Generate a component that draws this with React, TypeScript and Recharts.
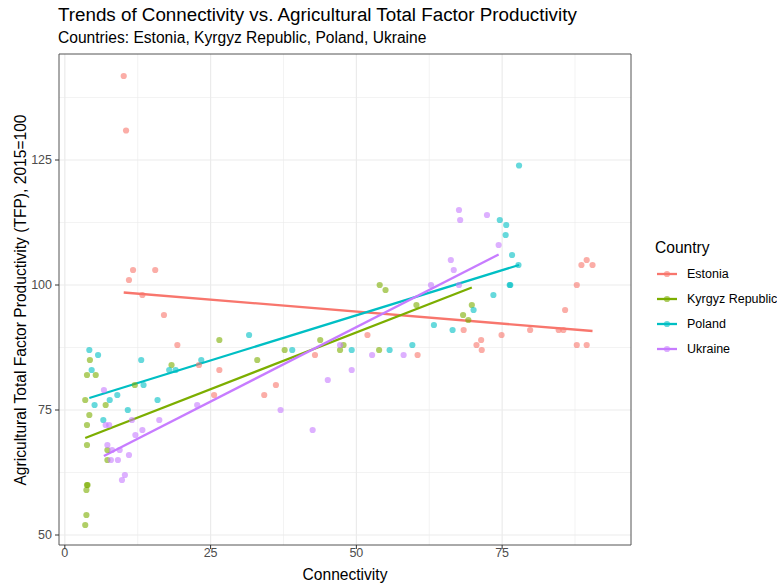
import React from 'react';
import { ComposedChart, Scatter, Line, XAxis, YAxis, CartesianGrid, ReferenceArea } from 'recharts';

const estonia = [
  { x: 10.1, y: 141.8 }, { x: 10.5, y: 130.9 }, { x: 11.7, y: 103 }, { x: 15.5, y: 103 },
  { x: 11, y: 101 }, { x: 13.3, y: 98 }, { x: 17, y: 94 }, { x: 19.3, y: 88 },
  { x: 23, y: 84 }, { x: 26.5, y: 83 }, { x: 25.6, y: 78 }, { x: 34.2, y: 78 },
  { x: 36.2, y: 80 }, { x: 42.9, y: 86 }, { x: 51.9, y: 90 }, { x: 60.5, y: 86 },
  { x: 68.4, y: 91 }, { x: 70.6, y: 88 }, { x: 71.4, y: 89 }, { x: 71.5, y: 87 },
  { x: 74.9, y: 90 }, { x: 79.8, y: 91 }, { x: 84.7, y: 91 }, { x: 85.5, y: 91 },
  { x: 85.8, y: 95 }, { x: 87.8, y: 100 }, { x: 88.6, y: 104 }, { x: 89.5, y: 105 },
  { x: 90.5, y: 104 }, { x: 87.8, y: 88 }, { x: 89.5, y: 88 },
];

const kyrgyz = [
  { x: 3.5, y: 52 }, { x: 3.7, y: 54 }, { x: 3.7, y: 59 }, { x: 3.8, y: 60 },
  { x: 3.9, y: 60 }, { x: 3.8, y: 68 }, { x: 3.8, y: 72 }, { x: 4.2, y: 74 },
  { x: 3.5, y: 77 }, { x: 7, y: 76 }, { x: 3.8, y: 82 }, { x: 5.3, y: 82 },
  { x: 4.3, y: 85 }, { x: 7.3, y: 67 }, { x: 7.3, y: 65 }, { x: 12, y: 80 },
  { x: 18.3, y: 84 }, { x: 26.5, y: 89 }, { x: 33, y: 85 }, { x: 37.7, y: 87 },
  { x: 43.8, y: 89 }, { x: 47.2, y: 87 }, { x: 47.8, y: 88 }, { x: 53.9, y: 87 },
  { x: 54, y: 100 }, { x: 55, y: 99 }, { x: 60.3, y: 96 }, { x: 69.8, y: 96 },
  { x: 68.3, y: 94 }, { x: 69.2, y: 93 },
];

const poland = [
  { x: 4.2, y: 87 }, { x: 5.7, y: 86 }, { x: 4.6, y: 83 }, { x: 13.1, y: 85 },
  { x: 31.6, y: 90 }, { x: 23.4, y: 85 }, { x: 17.9, y: 83 }, { x: 19, y: 83 },
  { x: 13.5, y: 80 }, { x: 9, y: 78 }, { x: 5.1, y: 76 }, { x: 15.9, y: 77 },
  { x: 10.8, y: 75 }, { x: 6.6, y: 73 }, { x: 7.7, y: 77 }, { x: 39, y: 87 },
  { x: 49.2, y: 87 }, { x: 55.7, y: 87 }, { x: 59.6, y: 88 }, { x: 63.3, y: 92 },
  { x: 66.5, y: 91 }, { x: 70.1, y: 95 }, { x: 73.5, y: 98 }, { x: 76.3, y: 100 },
  { x: 76.4, y: 100 }, { x: 77.8, y: 104 }, { x: 76.7, y: 106 }, { x: 75.6, y: 110 },
  { x: 75.7, y: 112 }, { x: 74.6, y: 113 }, { x: 77.9, y: 123.9 },
];

const ukraine = [
  { x: 6.7, y: 79 }, { x: 7, y: 72 }, { x: 7.6, y: 72 }, { x: 7.3, y: 68 },
  { x: 8.1, y: 67 }, { x: 9.4, y: 67 }, { x: 7.9, y: 65 }, { x: 9.1, y: 65 },
  { x: 11, y: 66 }, { x: 10.3, y: 62 }, { x: 9.8, y: 61 }, { x: 11.5, y: 73 },
  { x: 13.3, y: 71 }, { x: 12.1, y: 70 }, { x: 16.2, y: 73 }, { x: 22.7, y: 76 },
  { x: 37, y: 75 }, { x: 42.5, y: 71 }, { x: 45.1, y: 81 }, { x: 47.2, y: 88 },
  { x: 49.2, y: 83 }, { x: 52.7, y: 86 }, { x: 58.1, y: 86 }, { x: 62.8, y: 100 },
  { x: 66.2, y: 105 }, { x: 66.7, y: 103 }, { x: 67.6, y: 100 }, { x: 67.6, y: 115 },
  { x: 67.8, y: 113 }, { x: 72.4, y: 114 }, { x: 74.4, y: 108 },
];

// Fitted linear trend lines (end points)
const estoniaTrend = [{ x: 10.1, y: 98.5 }, { x: 90.5, y: 90.8 }];
const kyrgyzTrend = [{ x: 3.5, y: 69.4 }, { x: 69.8, y: 99.5 }];
const polandTrend = [{ x: 4.2, y: 77.4 }, { x: 77.9, y: 104 }];
const ukraineTrend = [{ x: 6.7, y: 65.8 }, { x: 74.4, y: 106.1 }];

const xTicks = [0, 25, 50, 75];
const yTicks = [50, 75, 100, 125];
const xMinor = [12.5, 37.5, 62.5, 87.5];
const yMinor = [62.5, 87.5, 112.5, 137.5];

const xDomain = [-1.0, 97.1];
const yDomain = [48, 146.2];

const countries = [
  { name: 'Estonia', color: '#F8766D', points: estonia, trend: estoniaTrend },
  { name: 'Kyrgyz Republic', color: '#7CAE00', points: kyrgyz, trend: kyrgyzTrend },
  { name: 'Poland', color: '#00BFC4', points: poland, trend: polandTrend },
  { name: 'Ukraine', color: '#C77CFF', points: ukraine, trend: ukraineTrend },
];

const font = '"Liberation Sans", Arial, Helvetica, sans-serif';

const dot = (color: string) => (props: any) => (
  <circle cx={props.cx} cy={props.cy} r={3.1} fill={color} fillOpacity={0.6} />
);

const App = () => {
  return (
    <div style={{ position: 'absolute', left: 0, top: 0, width: 777, height: 585, background: '#fff', fontFamily: font }}>
      <div style={{ position: 'absolute', left: 58, top: 4, fontSize: 18.8, lineHeight: '22px', color: '#000', whiteSpace: 'nowrap' }}>
        Trends of Connectivity vs. Agricultural Total Factor Productivity
      </div>
      <div style={{ position: 'absolute', left: 58, top: 29, fontSize: 15.6, lineHeight: '18px', color: '#000', whiteSpace: 'nowrap' }}>
        Countries: Estonia, Kyrgyz Republic, Poland, Ukraine
      </div>

      <ComposedChart width={777} height={585} margin={{ top: 54, right: 146, bottom: 0, left: 14 }}>
        <CartesianGrid verticalValues={xMinor} horizontalValues={yMinor} stroke="#EBEBEB" strokeWidth={0.6} />
        <CartesianGrid verticalValues={xTicks} horizontalValues={yTicks} stroke="#EBEBEB" strokeWidth={1.2} />
        <XAxis
          type="number"
          dataKey="x"
          domain={xDomain}
          ticks={xTicks}
          allowDataOverflow
          height={40}
          axisLine={false}
          tickSize={4}
          tickMargin={-1}
          tickLine={{ stroke: '#333333' }}
          tick={{ fill: '#4D4D4D', fontSize: 12.5, fontFamily: font }}
          label={{ value: 'Connectivity', position: 'insideBottom', offset: 5, fill: '#000', fontSize: 15.6, fontFamily: font }}
        />
        <YAxis
          type="number"
          dataKey="y"
          domain={yDomain}
          ticks={yTicks}
          allowDataOverflow
          width={45}
          axisLine={false}
          tickSize={4}
          tickMargin={3}
          tickLine={{ stroke: '#333333' }}
          tick={{ fill: '#4D4D4D', fontSize: 12.5, fontFamily: font }}
        />
        {countries.map(c => (
          <Scatter
            key={c.name}
            name={c.name}
            data={c.points}
            fill={c.color}
            shape={dot(c.color)}
            isAnimationActive={false}
          />
        ))}
        {countries.map(c => (
          <Line
            key={c.name + '-trend'}
            data={c.trend}
            dataKey="y"
            stroke={c.color}
            strokeWidth={2.3}
            dot={false}
            activeDot={false}
            isAnimationActive={false}
            legendType="none"
          />
        ))}
        <ReferenceArea
          x1={xDomain[0]}
          x2={xDomain[1]}
          y1={yDomain[0]}
          y2={yDomain[1]}
          fill="none"
          stroke="#555555"
          strokeWidth={1}
          ifOverflow="visible"
        />
      </ComposedChart>

      <div
        style={{
          position: 'absolute',
          left: 21,
          top: 300,
          transform: 'translate(-50%, -50%) rotate(-90deg)',
          whiteSpace: 'nowrap',
          fontSize: 15.6,
          color: '#000',
        }}
      >
        Agricultural Total Factor Productivity (TFP), 2015=100
      </div>

      <div style={{ position: 'absolute', left: 655, top: 239, fontSize: 15.6, lineHeight: '18px', color: '#000' }}>
        Country
      </div>
      {countries.map((c, i) => (
        <div key={c.name} style={{ position: 'absolute', left: 655, top: 264 + i * 25, height: 20, display: 'flex', alignItems: 'center', whiteSpace: 'nowrap' }}>
          <svg width={24} height={20}>
            <line x1={2} y1={10} x2={22} y2={10} stroke={c.color} strokeWidth={2.3} />
            <circle cx={12} cy={10} r={3.1} fill={c.color} fillOpacity={0.6} />
          </svg>
          <span style={{ marginLeft: 8, fontSize: 12.5, color: '#000' }}>{c.name}</span>
        </div>
      ))}
    </div>
  );
};

export default App;
